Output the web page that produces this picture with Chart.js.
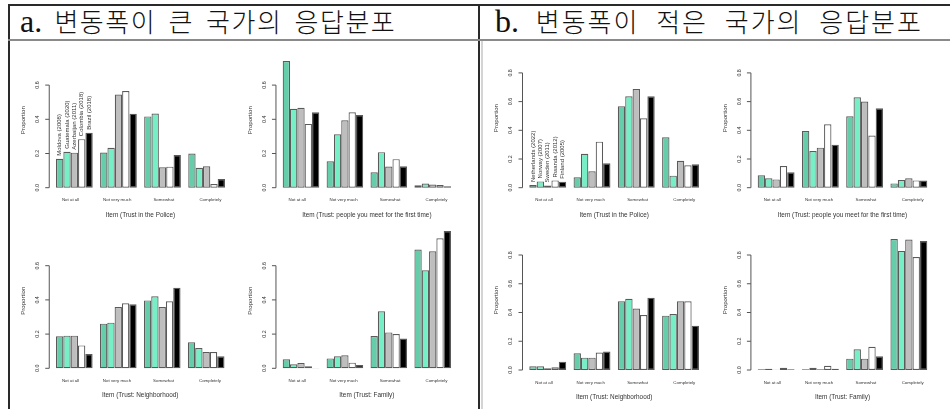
<!DOCTYPE html>
<html>
<head>
<meta charset="utf-8">
<script src="https://cdn.jsdelivr.net/npm/chart.js@4.4.1/dist/chart.umd.min.js"></script>
<style>
  html, body { margin: 0; padding: 0; background: #fff; }
  body { width: 950px; height: 409px; position: relative; overflow: hidden; font-family: "Liberation Sans", Arial, sans-serif; }
  .rule { position: absolute; }
  .head { position: absolute; top: 2px; height: 38px; line-height: 38px; font-size: 26px; color: #111; white-space: nowrap;
          font-family: "Noto Sans CJK KR", sans-serif; font-weight: 300; }
  .head .lead { font-family: "Liberation Serif", serif; font-weight: 400; font-size: 32px; letter-spacing: 0; }
  canvas { position: absolute; }
</style>
</head>
<body>
<div class="rule" style="left:8px;top:4px;width:942px;height:2px;background:#2a2a2a"></div>
<div class="rule" style="left:8px;top:4px;width:2px;height:405px;background:#2a2a2a"></div>
<div class="rule" style="left:478px;top:4px;width:2px;height:405px;background:#2a2a2a"></div>
<div class="rule" style="left:8px;top:39px;width:942px;height:2px;background:#8a8a8a"></div>
<div class="rule" style="left:481px;top:41px;width:2px;height:368px;background:#d4d4d4"></div>
<div class="head" style="left:20px;letter-spacing:1.5px;word-spacing:5px"><span class="lead">a.</span> 변동폭이 큰 국가의 응답분포</div>
<div class="head" style="left:495px;letter-spacing:2px;word-spacing:9px"><span class="lead">b.</span> 변동폭이 적은 국가의 응답분포</div>

<canvas id="a1"></canvas><canvas id="a2"></canvas><canvas id="a3"></canvas><canvas id="a4"></canvas>
<canvas id="b1"></canvas><canvas id="b2"></canvas><canvas id="b3"></canvas><canvas id="b4"></canvas>

<script>
// Response categories (x axis) and the countries drawn as bars in each group
const categories = ['Not at all', 'Not very much', 'Somewhat', 'Completely'];
const countriesHigh = ['Moldova (2008)', 'Guatemala (2020)', 'Azerbaijan (2011)', 'Colombia (2018)', 'Brazil (2018)'];
const countriesLow = ['Netherlands (2022)', 'Norway (2007)', 'Sweden (2011)', 'Rwanda (2012)', 'Finland (2005)'];

// Y axis ticks
const ticksHigh = [0, 0.2, 0.4, 0.6];
const tickLabelsHigh = ['0.0', '0.2', '0.4', '0.6'];
const ticksLow = [0, 0.2, 0.4, 0.6, 0.8];
const tickLabelsLow = ['0.0', '0.2', '0.4', '0.6', '0.8'];

// Proportions: one row per country, one value per category
const highPolice = [
  [0.169, 0.206, 0.417, 0.200],
  [0.210, 0.234, 0.434, 0.117],
  [0.205, 0.545, 0.119, 0.125],
  [0.284, 0.565, 0.123, 0.021],
  [0.321, 0.432, 0.191, 0.051]
];
const highStranger = [
  [0.741, 0.155, 0.090, 0.014],
  [0.461, 0.312, 0.208, 0.024],
  [0.467, 0.394, 0.124, 0.018],
  [0.373, 0.441, 0.167, 0.016],
  [0.441, 0.425, 0.125, 0.008]
];
const highNeighbor = [
  [0.187, 0.261, 0.397, 0.152],
  [0.191, 0.267, 0.421, 0.119],
  [0.191, 0.358, 0.358, 0.095],
  [0.134, 0.380, 0.392, 0.095],
  [0.084, 0.374, 0.471, 0.070]
];
const highFamily = [
  [0.053, 0.058, 0.189, 0.695],
  [0.023, 0.070, 0.333, 0.573],
  [0.031, 0.076, 0.210, 0.684],
  [0.012, 0.033, 0.200, 0.760],
  [0.002, 0.019, 0.175, 0.803]
];
const lowPolice = [
  [0.019, 0.072, 0.567, 0.351],
  [0.044, 0.237, 0.637, 0.084],
  [0.016, 0.114, 0.688, 0.188],
  [0.051, 0.321, 0.484, 0.156],
  [0.042, 0.170, 0.637, 0.163]
];
const lowStranger = [
  [0.086, 0.395, 0.498, 0.030],
  [0.065, 0.256, 0.630, 0.053],
  [0.058, 0.279, 0.600, 0.065],
  [0.151, 0.442, 0.363, 0.051],
  [0.107, 0.300, 0.553, 0.051]
];
const lowNeighbor = [
  [0.026, 0.116, 0.478, 0.378],
  [0.026, 0.086, 0.496, 0.390],
  [0.012, 0.086, 0.427, 0.478],
  [0.019, 0.121, 0.383, 0.478],
  [0.058, 0.128, 0.503, 0.308]
];
const lowFamily = [
  [0.005, 0.005, 0.079, 0.911],
  [0.009, 0.016, 0.144, 0.828],
  [0.002, 0.005, 0.079, 0.907],
  [0.016, 0.030, 0.162, 0.786],
  [0.005, 0.009, 0.095, 0.897]
];

// Bar fill per country position
const barColors = ['#66CDAA', '#76EEC6', '#BEBEBE', '#FFFFFF', '#000000'];

const FONT = '"Liberation Sans", Arial, sans-serif';

// Page placement of each small multiple
const panels = [
  { id: 'a1', rows: highPolice,   names: countriesHigh, showNames: true,  xTitle: 'Item (Trust in the Police)',
    ticks: ticksHigh, tickText: tickLabelsHigh, box: [10, 42, 228, 180], bars: [56, 225],    zero: 187.7, ppu: 171,    range: [-0.03, 0.82] },
  { id: 'a2', rows: highStranger, names: countriesHigh, showNames: false, xTitle: 'Item (Trust: people you meet for the first time)',
    ticks: ticksHigh, tickText: tickLabelsHigh, box: [240, 42, 235, 180], bars: [282.7, 451], zero: 187.7, ppu: 171,    range: [-0.03, 0.82] },
  { id: 'a3', rows: highNeighbor, names: countriesHigh, showNames: false, xTitle: 'Item (Trust: Neighborhood)',
    ticks: ticksHigh, tickText: tickLabelsHigh, box: [10, 222, 228, 186], bars: [56, 224.5],  zero: 368.3, ppu: 171,    range: [-0.03, 0.82] },
  { id: 'a4', rows: highFamily,   names: countriesHigh, showNames: false, xTitle: 'Item (Trust: Family)',
    ticks: ticksHigh, tickText: tickLabelsHigh, box: [240, 222, 235, 186], bars: [282.7, 451], zero: 368.3, ppu: 171,    range: [-0.03, 0.82] },
  { id: 'b1', rows: lowPolice,    names: countriesLow,  showNames: true,  xTitle: 'Item (Trust in the Police)',
    ticks: ticksLow, tickText: tickLabelsLow,   box: [484, 42, 230, 180], bars: [529.3, 699], zero: 187.7, ppu: 143.5,  range: [-0.03, 1.0] },
  { id: 'b2', rows: lowStranger,  names: countriesLow,  showNames: false, xTitle: 'Item (Trust: people you meet for the first time)',
    ticks: ticksLow, tickText: tickLabelsLow,   box: [714, 42, 234, 180], bars: [757.7, 927.3], zero: 187.7, ppu: 143.5, range: [-0.03, 1.0] },
  { id: 'b3', rows: lowNeighbor,  names: countriesLow,  showNames: false, xTitle: 'Item (Trust: Neighborhood)',
    ticks: ticksLow, tickText: tickLabelsLow,   box: [484, 222, 230, 187], bars: [529.3, 699], zero: 370, ppu: 143.75,  range: [-0.03, 1.0] },
  { id: 'b4', rows: lowFamily,    names: countriesLow,  showNames: false, xTitle: 'Item (Trust: Family)',
    ticks: ticksLow, tickText: tickLabelsLow,   box: [714, 222, 234, 187], bars: [757.7, 927.3], zero: 370, ppu: 143.75, range: [-0.03, 1.0] }
];

// Base-graphics style axes: y axis line spanning the ticks, rotated tick labels,
// category names under each group, axis titles and optional bar annotations.
const baseAxes = {
  id: 'baseAxes',
  afterDatasetsDraw(chart, args, opts) {
    const ctx = chart.ctx;
    const xs = chart.scales.x, ys = chart.scales.y;
    const area = chart.chartArea;
    const unit = (xs.getPixelForValue(1) - xs.getPixelForValue(0)) / 6;
    const firstBarLeft = xs.getPixelForValue(0) - 2.5 * unit;
    const axisX = firstBarLeft - 0.92 * unit;
    const t = opts.ticks;
    ctx.save();
    ctx.strokeStyle = '#555';
    ctx.lineWidth = 1;
    ctx.beginPath();
    ctx.moveTo(axisX, ys.getPixelForValue(t[0]));
    ctx.lineTo(axisX, ys.getPixelForValue(t[t.length - 1]));
    t.forEach(v => {
      const py = ys.getPixelForValue(v);
      ctx.moveTo(axisX, py);
      ctx.lineTo(axisX - 4, py);
    });
    ctx.stroke();

    ctx.fillStyle = '#333';
    ctx.font = '5.3px ' + FONT;
    ctx.textAlign = 'center';
    ctx.textBaseline = 'middle';
    t.forEach((v, i) => {
      ctx.save();
      ctx.translate(axisX - 11.5, ys.getPixelForValue(v));
      ctx.rotate(-Math.PI / 2);
      ctx.fillText(opts.tickText[i], 0, 0);
      ctx.restore();
    });

    ctx.font = '6.1px ' + FONT;
    ctx.save();
    ctx.translate(axisX - 26, (area.top + area.bottom) / 2);
    ctx.rotate(-Math.PI / 2);
    ctx.fillText('Proportion', 0, 0);
    ctx.restore();

    const zeroY = ys.getPixelForValue(0);
    const mid = (area.left + area.right) / 2;
    ctx.font = '4.4px ' + FONT;
    chart.data.labels.forEach((lab, i) => {
      const gx = xs.getPixelForValue(i);
      ctx.fillText(lab, mid + (gx - mid) * 1.057, zeroY + 12.3);
    });

    ctx.font = '6.4px ' + FONT;
    ctx.fillText(opts.xTitle, mid, zeroY + 27.3);

    if (opts.showNames) {
      ctx.font = '6px ' + FONT;
      ctx.textAlign = 'left';
      chart.data.datasets.forEach((ds, i) => {
        const bar = chart.getDatasetMeta(i).data[0];
        ctx.save();
        ctx.translate(bar.x, bar.y - 3);
        ctx.rotate(-Math.PI / 2);
        ctx.fillText(ds.label, 0, 0);
        ctx.restore();
      });
    }
    ctx.restore();
  }
};

panels.forEach(p => {
  const [bx, by, bw, bh] = p.box;
  const canvas = document.getElementById(p.id);
  canvas.width = bw; canvas.height = bh;
  canvas.style.left = bx + 'px'; canvas.style.top = by + 'px';
  canvas.style.width = bw + 'px'; canvas.style.height = bh + 'px';

  // plot region so that groups of five bars sit at the given span
  const W = (p.bars[1] - p.bars[0]) * 48 / 46;
  const left = p.bars[0] - W / 48;
  const right = left + W;
  const top = p.zero - p.range[1] * p.ppu;
  const bottom = p.zero - p.range[0] * p.ppu;

  new Chart(canvas, {
    type: 'bar',
    data: {
      labels: categories,
      datasets: p.rows.map((vals, i) => ({
        label: p.names[i],
        data: vals,
        backgroundColor: barColors[i],
        borderColor: '#5a5a5a',
        borderWidth: 1.2,
        borderSkipped: false,
        categoryPercentage: 5 / 6,
        barPercentage: 1
      }))
    },
    options: {
      responsive: false,
      animation: false,
      devicePixelRatio: 1,
      layout: { padding: { left: left - bx, right: bx + bw - right, top: top - by, bottom: by + bh - bottom } },
      plugins: {
        legend: { display: false },
        tooltip: { enabled: false },
        baseAxes: { ticks: p.ticks, tickText: p.tickText, xTitle: p.xTitle, showNames: p.showNames }
      },
      scales: {
        x: { display: false, offset: true },
        y: { display: false, min: p.range[0], max: p.range[1] }
      }
    },
    plugins: [baseAxes]
  });
});
</script>
</body>
</html>
